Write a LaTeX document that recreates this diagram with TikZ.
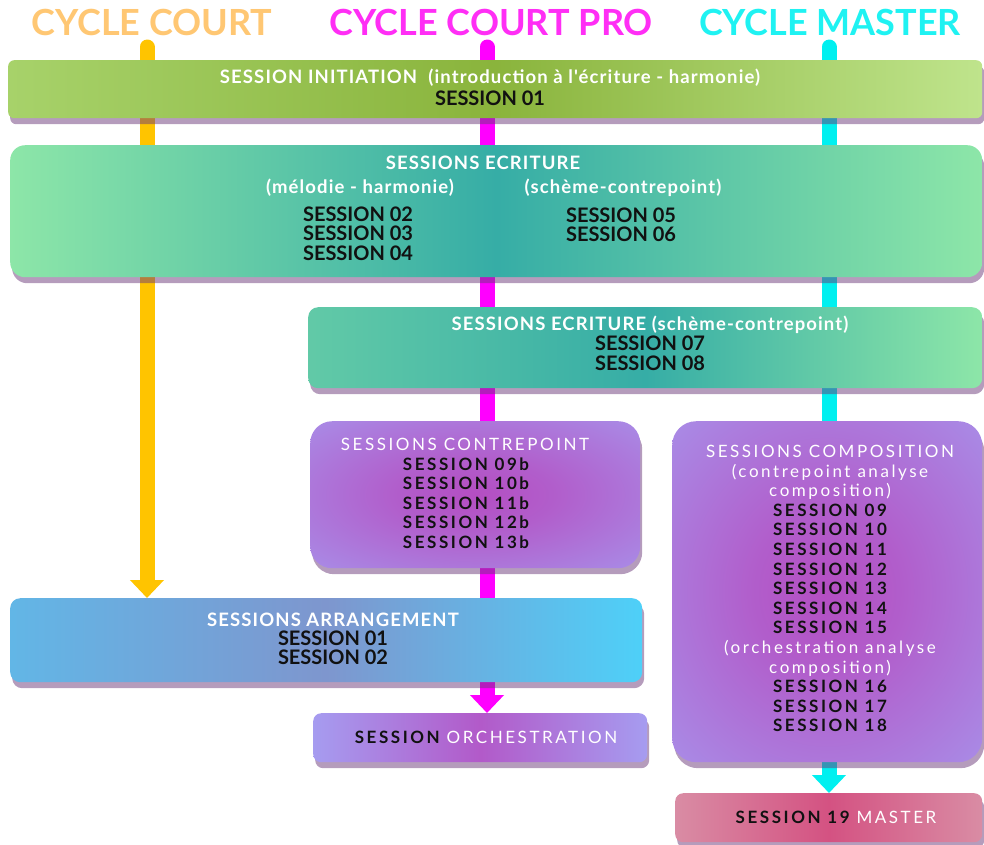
\documentclass[tikz,border=0pt]{standalone}
\usepackage{fontspec}
\setmainfont{Lato}
\newfontfamily\widefont[LetterSpace=15]{Lato}
\newfontfamily\whitefont[LetterSpace=6]{Lato}
\usetikzlibrary{arrows.meta,shadows}
\definecolor{torange}{HTML}{FFC773}
\definecolor{tmagenta}{HTML}{FF2EF5}
\definecolor{tcyan}{HTML}{1FF2F2}
\definecolor{lorange}{HTML}{FFC400}
\definecolor{lmagenta}{HTML}{FF00FF}
\definecolor{lcyan}{HTML}{00F0F0}
\definecolor{shadowc}{HTML}{6B3A7A}
\definecolor{gL}{HTML}{A7D26A}\definecolor{gM}{HTML}{8AB43C}\definecolor{gR}{HTML}{BFE48C}
\definecolor{tE}{HTML}{8DE6A8}\definecolor{tM}{HTML}{36ADA6}
\definecolor{bL}{HTML}{62B6E6}\definecolor{bM}{HTML}{7E96CE}\definecolor{bR}{HTML}{4ED0F8}
\definecolor{pE}{HTML}{A69CF0}\definecolor{pM}{HTML}{B44EC2}
\definecolor{kE}{HTML}{D98CA4}\definecolor{kM}{HTML}{D45282}
\definecolor{txtblack}{HTML}{111111}
\pgfdeclareradialshading{purpshade}{\pgfpoint{0bp}{0bp}}{color(0bp)=(pM); color(12bp)=(pM!80!pE); color(44bp)=(pE); color(50bp)=(pE)}
\tikzset{
  box/.style={draw=none, inner sep=0pt, anchor=north west,
    drop shadow={shadow xshift=2pt, shadow yshift=-6pt, fill=shadowc, opacity=.5}},
  title/.style={font=\fontsize{36}{36}\selectfont\bfseries, inner sep=0pt},
  whitetxt/.style={text=white, font=\whitefont\fontsize{18.5}{19.5}\selectfont\bfseries, inner sep=0pt, align=center},
  blacktxt/.style={text=txtblack, font=\fontsize{20}{19.5}\selectfont\bfseries, inner sep=0pt, align=center},
  widewhite/.style={text=white, font=\widefont\fontsize{17}{19.6}\selectfont, inner sep=0pt, align=center},
  wideblack/.style={text=txtblack, font=\widefont\fontsize{17}{19.6}\selectfont\bfseries, inner sep=0pt, align=center},
  cline/.style={line width=15pt, line cap=round, -{Triangle[width=33pt,length=18pt]}},
  purplebox/.style={box, shading=purpshade},
}
\begin{document}
\begin{tikzpicture}[x=1pt,y=-1pt]
\useasboundingbox (0,0) rectangle (984,844);
% titles
\node[title, text=torange] (t1) at (152,22) {CYCLE COURT};
\node[title, text=tmagenta] (t2) at (491,22) {CYCLE COURT PRO};
\node[title, text=tcyan] (t3) at (830,22) {CYCLE MASTER};
\coordinate (c1) at (147,47);
\coordinate (c2) at (487,47);
\coordinate (c3) at (829,47);
% placeholders for arrow targets
\node[inner sep=0pt, minimum width=632pt, minimum height=84pt, anchor=north west] (arrpos) at (10,598) {};
\node[inner sep=0pt, minimum width=334pt, minimum height=49pt, anchor=north west] (orcpos) at (313,713) {};
\node[inner sep=0pt, minimum width=307pt, minimum height=49pt, anchor=north west] (maspos) at (675,793) {};
\draw[cline, lorange] (c1) -- (c1 |- arrpos.north);
\draw[cline, lmagenta] (c2) -- (c2 |- orcpos.north);
\draw[cline, lcyan] (c3) -- (c3 |- maspos.north);
% box 1: initiation
\node[box, rounded corners=6pt, minimum width=974pt, minimum height=58pt,
  left color=gL, right color=gR, middle color=gM] (init) at (8,60) {};
\node[whitetxt] (initA) at (490,78) {SESSION INITIATION\ \ (introduction à l'écriture - harmonie)};
\node[blacktxt] (initB) at (490,98) {SESSION 01};
% box 2: ecriture
\node[box, rounded corners=15pt, minimum width=972pt, minimum height=132pt,
  left color=tE, right color=tE, middle color=tM] (ecr) at (10,145) {};
\node[whitetxt] (ecrA) at (483,163) {SESSIONS ECRITURE};
\node[whitetxt] (ecrB) at (360,188) {(mélodie - harmonie)};
\node[whitetxt] (ecrC) at (623,188) {(schème-contrepoint)};
\node[blacktxt] (ecrD) at (358,233.5) {SESSION 02\\SESSION 03\\SESSION 04};
\node[blacktxt] (ecrE) at (621,225) {SESSION 05\\SESSION 06};
% box 3: ecriture 2
\node[box, rounded corners=10pt, minimum width=674pt, minimum height=81pt,
  left color=tE!50!tM, right color=tE, middle color=tM] (ecr2) at (308,307) {};
\node[whitetxt] (ecr2A) at (650,325) {SESSIONS ECRITURE (schème-contrepoint)};
\node[blacktxt] (ecr2B) at (650,353.5) {SESSION 07\\SESSION 08};
% box 4: contrepoint
\node[purplebox, rounded corners=22pt, minimum width=330pt, minimum height=147pt] (ctp) at (310,421) {};
\node[widewhite] (ctpA) at (465,444) {SESSIONS CONTREPOINT};
\node[wideblack] (ctpB) at (466,503) {SESSION 09b\\SESSION 10b\\SESSION 11b\\SESSION 12b\\SESSION 13b};
% box 5: composition
\node[purplebox, rounded corners=24pt, minimum width=310pt, minimum height=341pt] (cmp) at (672,421) {};
\node[wideblack] (cmpA) at (830,588.5) {\color{white}\mdseries SESSIONS COMPOSITION\\
\color{white}\mdseries (contrepoint analyse\\\color{white}\mdseries composition)\\
SESSION 09\\SESSION 10\\SESSION 11\\SESSION 12\\SESSION 13\\SESSION 14\\SESSION 15\\
\color{white}\mdseries (orchestration analyse\\\color{white}\mdseries composition)\\
SESSION 16\\SESSION 17\\SESSION 18};
% box 6: arrangement
\node[box, rounded corners=10pt, minimum width=632pt, minimum height=84pt,
  left color=bL, right color=bR, middle color=bM] (arr) at (10,598) {};
\node[whitetxt] (arrA) at (333,620) {SESSIONS ARRANGEMENT};
\node[blacktxt] (arrB) at (333,648) {SESSION 01\\SESSION 02};
% box 7: orchestration
\node[box, rounded corners=8pt, minimum width=334pt, minimum height=49pt,
  left color=pE, right color=pE, middle color=pM!85!pE] (orc) at (313,713) {};
\node[wideblack] (orcA) at (486,737) {SESSION{\color{white}\mdseries\ ORCHESTRATION}};
% box 8: master
\node[box, rounded corners=8pt, minimum width=307pt, minimum height=49pt,
  left color=kE, right color=kE, middle color=kM] (mas) at (675,793) {};
\node[wideblack] (masA) at (836,817) {SESSION 19{\color{white}\mdseries\ MASTER}};
\end{tikzpicture}
\end{document}
